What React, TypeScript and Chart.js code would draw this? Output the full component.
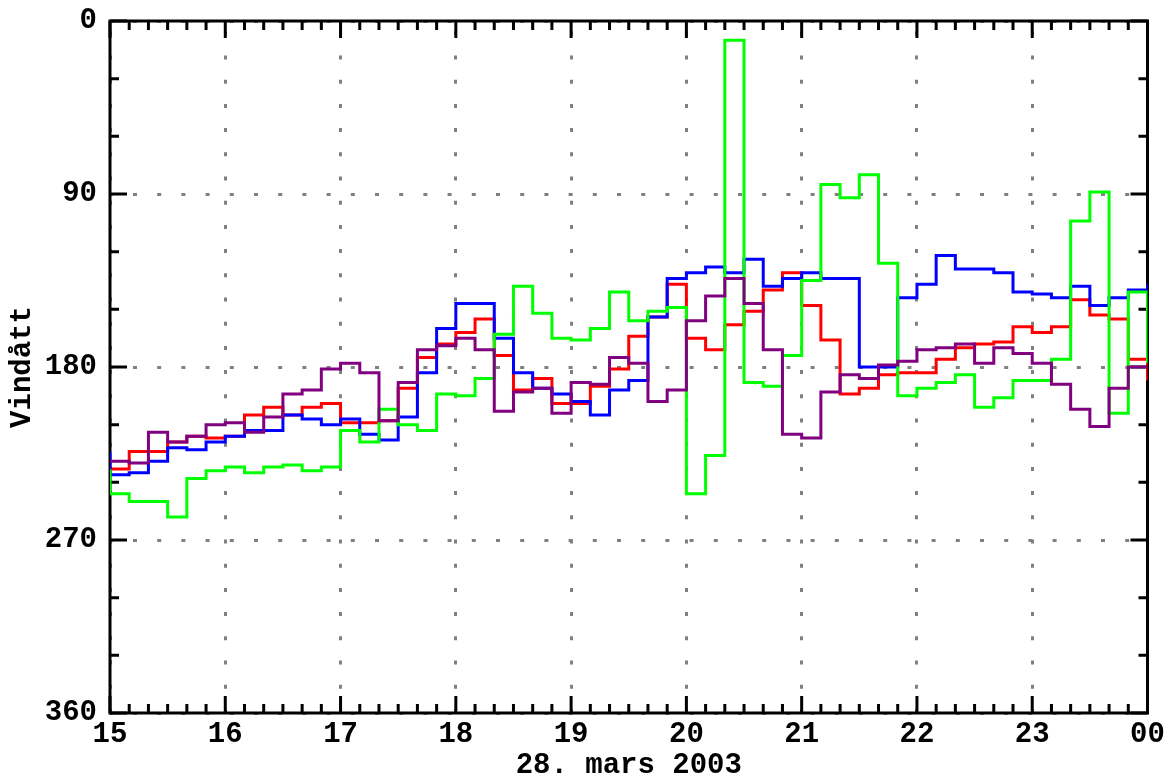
import React, { useEffect, useRef } from 'react';
import { Chart, registerables } from 'chart.js';

Chart.register(...registerables);

// Time of each 10-minute step (value holds until the next time)
const timeLabels = [
  '14:50',
  '15:00', '15:10', '15:20', '15:30', '15:40', '15:50',
  '16:00', '16:10', '16:20', '16:30', '16:40', '16:50',
  '17:00', '17:10', '17:20', '17:30', '17:40', '17:50',
  '18:00', '18:10', '18:20', '18:30', '18:40', '18:50',
  '19:00', '19:10', '19:20', '19:30', '19:40', '19:50',
  '20:00', '20:10', '20:20', '20:30', '20:40', '20:50',
  '21:00', '21:10', '21:20', '21:30', '21:40', '21:50',
  '22:00', '22:10', '22:20', '22:30', '22:40', '22:50',
  '23:00', '23:10', '23:20', '23:30', '23:40', '23:50',
  '00:00',
];

const redValues = [
  233,
  233, 224, 224, 219, 216, 217,
  216, 205, 201, 205, 201, 199,
  209, 209, 208, 191, 175, 168,
  162, 155, 174, 192, 186, 199,
  199, 190, 181, 164, 154, 137,
  165, 171, 158, 151, 140, 131,
  148, 166, 194, 191, 184, 183,
  183, 176, 170, 168, 167, 159,
  162, 159, 145, 153, 155, 176,
  187,
];

const blueValues = [
  225,
  236, 235, 229, 222, 223, 219,
  216, 213, 213, 205, 207, 210,
  207, 215, 218, 206, 183, 160,
  147, 147, 165, 183, 191, 194,
  198, 205, 192, 187, 154, 134,
  131, 128, 131, 124, 138, 134,
  131, 134, 134, 180, 180, 144,
  137, 122, 129, 129, 131, 141,
  142, 144, 138, 148, 144, 140,
  137,
];

const greenValues = [
  234,
  246, 250, 250, 258, 238, 234,
  232, 235, 232, 231, 234, 232,
  213, 219, 202, 210, 213, 194,
  195, 186, 163, 138, 152, 165,
  166, 160, 141, 156, 151, 149,
  246, 226, 10, 188, 190, 174,
  135, 85, 92, 80, 126, 195,
  191, 188, 184, 201, 196, 187,
  187, 176, 104, 89, 204, 141,
  178,
];

const purpleValues = [
  229,
  229, 230, 214, 219, 216, 210,
  209, 214, 206, 194, 192, 181,
  178, 183, 208, 188, 171, 169,
  165, 171, 203, 193, 191, 204,
  188, 189, 175, 178, 198, 192,
  156, 143, 134, 147, 171, 215,
  217, 193, 184, 186, 179, 177,
  171, 170, 168, 178, 170, 173,
  178, 189, 202, 211, 191, 180,
  180,
];

const xTickLabels = ['15', '16', '17', '18', '19', '20', '21', '22', '23', '00'];
const xTitle = '28. mars 2003';
const yTitle = 'Vindått';

// minutes after 15:00
const toMinutes = (t: string) => {
  const [hs, ms] = t.split(':');
  let h = parseInt(hs, 10);
  if (h < 12) h += 24;
  return h * 60 + parseInt(ms, 10) - 15 * 60;
};
const xs = timeLabels.map(toMinutes);
const toPoints = (vals: number[]) => vals.map((v, i) => ({ x: xs[i], y: v }));

const FONT = 'Liberation Mono';

const framePlugin = {
  id: 'frameTicks',
  beforeDatasetsDraw(chart: any) {
    const { ctx, chartArea: a, scales } = chart;
    const sx = scales.x;
    const sy = scales.y;
    ctx.save();
    ctx.strokeStyle = '#000';
    ctx.lineWidth = 3;
    ctx.lineCap = 'butt';
    ctx.beginPath();
    for (let m = sx.min; m <= sx.max; m += 10) {
      const px = sx.getPixelForValue(m);
      const len = m % 60 === 0 ? 17 : 9;
      ctx.moveTo(px, a.top);
      ctx.lineTo(px, a.top + len);
      ctx.moveTo(px, a.bottom);
      ctx.lineTo(px, a.bottom - len);
    }
    for (let d = sy.min; d <= sy.max; d += 30) {
      const py = sy.getPixelForValue(d);
      const len = d % 90 === 0 ? 17 : 9;
      ctx.moveTo(a.left, py);
      ctx.lineTo(a.left + len, py);
      ctx.moveTo(a.right, py);
      ctx.lineTo(a.right - len, py);
    }
    ctx.stroke();
    ctx.strokeRect(a.left, a.top, a.right - a.left, a.bottom - a.top);
    ctx.restore();
  },
};

export default function App() {
  const ref = useRef<HTMLCanvasElement>(null);
  useEffect(() => {
    const mk = (label: string, vals: number[], color: string) => ({
      label,
      data: toPoints(vals),
      borderColor: color,
      backgroundColor: color,
      borderWidth: 3,
      stepped: 'before' as const,
      pointRadius: 0,
      fill: false,
      borderJoinStyle: 'miter' as const,
      borderCapStyle: 'butt' as const,
    });
    const chart = new Chart(ref.current!, {
      type: 'line',
      data: {
        datasets: [
          mk('purple', purpleValues, '#800080'),
          mk('green', greenValues, '#00ff00'),
          mk('blue', blueValues, '#0000ff'),
          mk('red', redValues, '#ff0000'),
        ],
      },
      options: {
        responsive: false,
        animation: false,
        events: [],
        layout: { padding: { top: 21, right: 23.5, left: 0, bottom: 0 } },
        plugins: { legend: { display: false }, tooltip: { enabled: false } },
        scales: {
          x: {
            type: 'linear',
            min: 0,
            max: 540,
            afterFit: (s: any) => {
              s.height = 67;
            },
            ticks: {
              stepSize: 60,
              autoSkip: false,
              maxRotation: 0,
              padding: 4,
              color: '#000',
              font: { family: FONT, size: 29, weight: 'bold' },
              callback: (_v: any, i: number) => xTickLabels[i],
            },
            grid: { color: '#808080', lineWidth: 3, drawTicks: false },
            border: { display: false, dash: [4, 20.2], dashOffset: 13.9 },
            title: {
              display: true,
              text: xTitle,
              color: '#000',
              font: { family: FONT, size: 29, weight: 'bold', lineHeight: 1 },
              padding: 0,
            },
          },
          y: {
            type: 'linear',
            reverse: true,
            min: 0,
            max: 360,
            afterFit: (s: any) => {
              s.width = 110;
            },
            ticks: {
              stepSize: 90,
              padding: 13,
              color: '#000',
              font: { family: FONT, size: 29, weight: 'bold', lineHeight: 0.5 },
            },
            grid: { color: '#808080', lineWidth: 3, drawTicks: false },
            border: { display: false, dash: [4, 20.2], dashOffset: 1.2 },
            title: {
              display: true,
              text: yTitle,
              color: '#000',
              font: { family: FONT, size: 29, weight: 'bold', lineHeight: 1 },
              padding: { top: 8, bottom: 0 },
            },
          },
        },
      },
      plugins: [framePlugin],
    });
    return () => chart.destroy();
  }, []);
  return (
    <canvas
      ref={ref}
      width={1171}
      height={780}
      style={{ position: 'absolute', left: 0, top: 0, display: 'block', background: '#fff' }}
    />
  );
}
